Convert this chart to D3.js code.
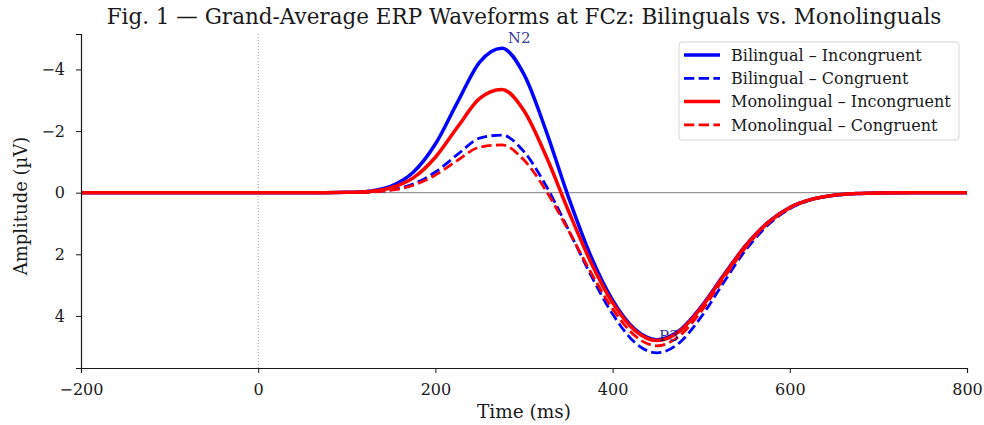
<!DOCTYPE html>
<html lang="en">
<head>
<meta charset="UTF-8">
<title>Grand-Average ERP Waveforms at FCz</title>
<style>
  body { margin: 0; background: #fff; }
  svg text { font-family: "DejaVu Serif", serif; fill: #1a1a1a; }
</style>
</head>
<body>
<svg id="chart" width="984" height="425"></svg>
<script src="https://d3js.org/d3.v7.min.js"></script>
<script>
// time points (ms)
const times = [-200, -100, 0, 50, 75, 100, 125, 150, 175, 200, 225, 250, 275, 300, 325, 350,
               375, 400, 425, 450, 475, 500, 525, 550, 575, 600, 625, 650, 675, 700, 750, 800];

// amplitudes (µV)
const bilingualIncongruent = [0, 0, 0, 0, 0, -0.01, -0.05, -0.21, -0.66, -1.58, -2.94, -4.24, -4.69, -3.84, -2.00, 0.13,
                              2.03, 3.49, 4.43, 4.77, 4.48, 3.70, 2.69, 1.72, 0.97, 0.48, 0.21, 0.08, 0.03, 0.01, 0, 0];
const bilingualCongruent = [0, 0, 0, 0, 0, 0, -0.02, -0.09, -0.28, -0.67, -1.24, -1.77, -1.87, -1.33, -0.22, 1.19,
                            2.65, 3.94, 4.86, 5.20, 4.88, 4.03, 2.93, 1.87, 1.06, 0.52, 0.23, 0.09, 0.03, 0.01, 0, 0];
const monolingualIncongruent = [0, 0, 0, 0, 0, -0.01, -0.04, -0.16, -0.48, -1.15, -2.13, -3.06, -3.35, -2.66, -1.18, 0.58,
                                2.23, 3.57, 4.47, 4.80, 4.51, 3.73, 2.71, 1.73, 0.98, 0.48, 0.21, 0.08, 0.03, 0.01, 0, 0];
const monolingualCongruent = [0, 0, 0, 0, 0, 0, -0.02, -0.08, -0.24, -0.57, -1.05, -1.48, -1.55, -1.06, -0.06, 1.22,
                              2.56, 3.77, 4.64, 4.97, 4.66, 3.85, 2.80, 1.79, 1.01, 0.50, 0.22, 0.08, 0.03, 0.01, 0, 0];

const seriesNames = ["Bilingual – Incongruent", "Bilingual – Congruent",
                     "Monolingual – Incongruent", "Monolingual – Congruent"];
const seriesValues = [bilingualIncongruent, bilingualCongruent, monolingualIncongruent, monolingualCongruent];
const seriesColors = ["#0000ff", "#0000ff", "#ff0000", "#ff0000"];
const seriesDashed = [false, true, false, true];

const xTicks = [-200, 0, 200, 400, 600, 800];
const yTicks = [-4, -2, 0, 2, 4];

const peaks = [{ label: "N2", t: 275, v: -4.69 }, { label: "P3", t: 450, v: 4.77 }];

const svg = d3.select("#chart");
const margin = { top: 34, right: 17, bottom: 57, left: 81 };
const width = +svg.attr("width") - margin.left - margin.right;
const height = +svg.attr("height") - margin.top - margin.bottom;
const g = svg.append("g").attr("transform", `translate(${margin.left},${margin.top})`);

const x = d3.scaleLinear().domain([-200, 800]).range([0, width]);
// negative up, as in ERP convention
const y = d3.scaleLinear().domain([-5.15, 5.69]).range([0, height]);

// reference lines
g.append("line")
    .attr("x1", 0).attr("x2", width)
    .attr("y1", y(0)).attr("y2", y(0))
    .attr("stroke", "#808080").attr("stroke-width", 1);

g.append("line")
    .attr("x1", x(0)).attr("x2", x(0))
    .attr("y1", 0).attr("y2", height)
    .attr("stroke", "#808080").attr("stroke-width", 0.8)
    .attr("stroke-dasharray", "1,2");

const line = d3.line()
    .x((d, i) => x(times[i]))
    .y(d => y(d))
    .curve(d3.curveMonotoneX);

const solidW = 3.5, dashW = 2.8, dashPattern = "10.3,4.4";

seriesValues.forEach((vals, k) => {
    g.append("path")
        .datum(vals)
        .attr("d", line)
        .attr("fill", "none")
        .attr("stroke", seriesColors[k])
        .attr("stroke-width", seriesDashed[k] ? dashW : solidW)
        .attr("stroke-dasharray", seriesDashed[k] ? dashPattern : null);
});

// peak labels
g.selectAll(".peak")
    .data(peaks)
    .join("text")
    .attr("class", "peak")
    .attr("x", d => x(d.t) + (d.label === "N2" ? 6 : 2))
    .attr("y", d => d.label === "N2" ? y(d.v) - 5 : y(d.v) + 1.5)
    .style("font-size", "15px")
    .style("fill", "#00008b")
    .style("fill-opacity", 0.8)
    .text(d => d.label);

// axes
const fmt = d => d < 0 ? "\u2212" + Math.abs(d) : d;
const xAxis = g.append("g")
    .attr("transform", `translate(0,${height})`)
    .call(d3.axisBottom(x).tickValues(xTicks).tickSize(5).tickPadding(11).tickFormat(fmt));
const yAxis = g.append("g")
    .call(d3.axisLeft(y).tickValues(yTicks).tickSize(5).tickPadding(11).tickFormat(fmt));

[xAxis, yAxis].forEach(a => {
    a.selectAll("text").style("font-size", "16px").style("font-family", "DejaVu Serif, serif").attr("fill", "#1a1a1a");
    a.selectAll("line").attr("stroke", "#1a1a1a").attr("stroke-width", 1);
    a.select(".domain").attr("stroke", "#1a1a1a").attr("stroke-width", 1.2);
});

// title and labels
svg.append("text")
    .attr("x", margin.left + width / 2)
    .attr("y", 24)
    .attr("text-anchor", "middle")
    .style("font-size", "21.5px")
    .text("Fig. 1 — Grand-Average ERP Waveforms at FCz: Bilinguals vs. Monolinguals");

svg.append("text")
    .attr("x", margin.left + width / 2)
    .attr("y", 418)
    .attr("text-anchor", "middle")
    .style("font-size", "18.5px")
    .text("Time (ms)");

svg.append("text")
    .attr("transform", "rotate(-90)")
    .attr("x", -(margin.top + height / 2 + 5))
    .attr("y", 27)
    .attr("text-anchor", "middle")
    .style("font-size", "18px")
    .text("Amplitude (µV)");

// legend
const legend = svg.append("g").attr("transform", "translate(679,42)");
legend.append("rect")
    .attr("width", 280).attr("height", 98)
    .attr("rx", 3)
    .attr("fill", "#fff").attr("fill-opacity", 0.8)
    .attr("stroke", "#d5d5d5");

seriesNames.forEach((name, k) => {
    const row = legend.append("g").attr("transform", `translate(0,${13 + k * 23.3})`);
    row.append("line")
        .attr("x1", 5).attr("x2", 41)
        .attr("stroke", seriesColors[k])
        .attr("stroke-width", seriesDashed[k] ? dashW : solidW)
        .attr("stroke-dasharray", seriesDashed[k] ? dashPattern : null);
    row.append("text")
        .attr("x", 52).attr("dy", "0.35em")
        .style("font-size", "16px")
        .text(name);
});
</script>
</body>
</html>
